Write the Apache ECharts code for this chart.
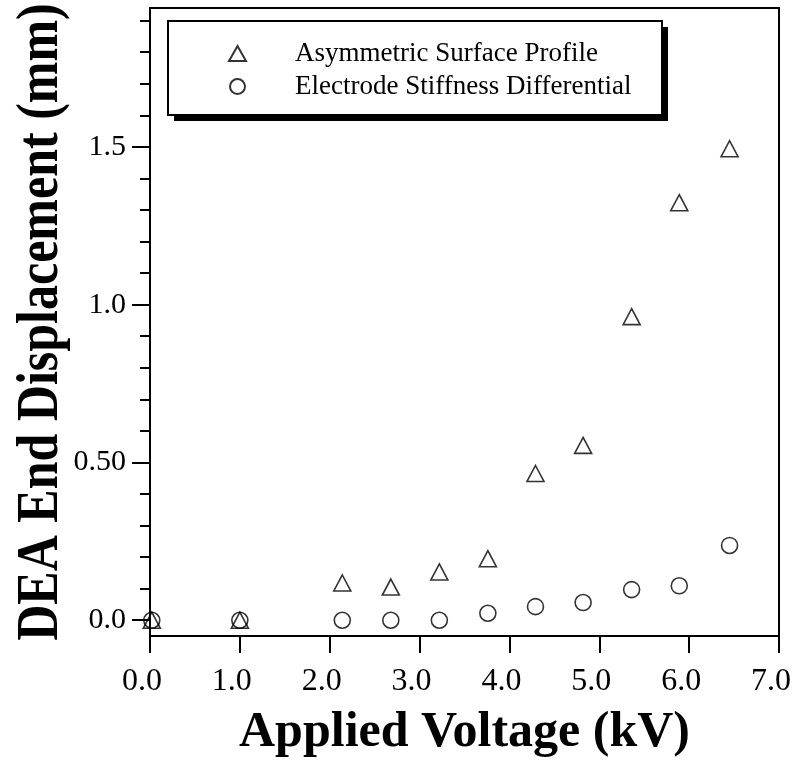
<!DOCTYPE html>
<html>
<head>
<meta charset="utf-8">
<script src="https://cdn.jsdelivr.net/npm/echarts@6/dist/echarts.min.js"></script>
<style>
html,body{margin:0;padding:0;background:#fff;}
#chart{width:796px;height:763px;}
</style>
</head>
<body>
<div id="chart"></div>
<script>
// ---- data ----
var voltage = [0.02, 1.0, 2.14, 2.68, 3.22, 3.76, 4.29, 4.82, 5.36, 5.89, 6.45];
var asymmetricSurface = [0.0, 0.0, 0.118, 0.105, 0.153, 0.195, 0.465, 0.554, 0.962, 1.323, 1.494];
var electrodeStiffness = [0.0, 0.0, 0.0, 0.0, 0.0, 0.022, 0.043, 0.056, 0.097, 0.109, 0.237];
var seriesNames = ['Asymmetric Surface Profile', 'Electrode Stiffness Differential'];
var xTickValues = [0, 1, 2, 3, 4, 5, 6, 7];
var xTickLabels = ['0.0', '1.0', '2.0', '3.0', '4.0', '5.0', '6.0', '7.0'];
var yMajorValues = [0, 0.5, 1.0, 1.5];
var yTickLabels = ['0.0', '0.50', '1.0', '1.5'];
var yMinorValues = [0, 0.1, 0.2, 0.3, 0.4, 0.5, 0.6, 0.7, 0.8, 0.9, 1.0, 1.1, 1.2, 1.3, 1.4, 1.5, 1.6, 1.7, 1.8, 1.9];
var xTitle = 'Applied Voltage (kV)';
var yTitle = 'DEA End Displacement (mm)';

var FONT = "'Liberation Serif', 'Times New Roman', serif";

function pairs(xs, ys) {
  return xs.map(function (x, i) { return [x, ys[i]]; });
}
function lookup(values, labels, v) {
  for (var i = 0; i < values.length; i++) {
    if (Math.abs(values[i] - v) < 1e-6) return labels[i];
  }
  return '';
}

var chart = echarts.init(document.getElementById('chart'), null, {renderer: 'canvas'});
var yMin = -0.05, yMax = 1.94;

chart.setOption({
  animation: false,
  backgroundColor: '#fff',
  grid: {
    left: 150, right: 17, top: 8, bottom: 127,
    show: true, borderColor: '#000', borderWidth: 2, backgroundColor: 'transparent'
  },
  legend: {
    orient: 'vertical',
    left: 168, top: 21,
    padding: [16, 20, 13, 60],
    itemGap: 0,
    itemWidth: 17, itemHeight: 15,
    backgroundColor: 'transparent',
    borderWidth: 0,
    textStyle: {
      fontFamily: FONT, fontSize: 27, color: '#000',
      lineHeight: 33, padding: [0, 0, 0, 44]
    },
    data: seriesNames
  },
  xAxis: {
    type: 'value', min: 0, max: 7, interval: 1,
    axisLine: {show: true, onZero: false, lineStyle: {color: '#000', width: 2}},
    axisTick: {show: true, length: 17, lineStyle: {color: '#000', width: 2}},
    axisLabel: {
      fontFamily: FONT, fontSize: 32, color: '#000', margin: 30,
      padding: [0, 16, 0, 0],
      formatter: function (v) { return lookup(xTickValues, xTickLabels, v); }
    },
    splitLine: {show: false},
    name: xTitle,
    nameLocation: 'middle',
    nameGap: 72,
    nameTextStyle: {fontFamily: FONT, fontSize: 50, fontWeight: 'bold', color: '#000'}
  },
  yAxis: [{
    type: 'value', min: yMin, max: yMax, position: 'left',
    axisLine: {show: true, onZero: false, lineStyle: {color: '#000', width: 2}},
    axisTick: {show: true, length: 18, customValues: yMajorValues, lineStyle: {color: '#000', width: 2}},
    axisLabel: {
      fontFamily: FONT, fontSize: 30, color: '#000', margin: 24,
      customValues: yMajorValues,
      formatter: function (v) { return lookup(yMajorValues, yTickLabels, v); }
    },
    splitLine: {show: false}
  }, {
    type: 'value', min: yMin, max: yMax, position: 'left', offset: 0,
    axisLine: {show: false},
    axisTick: {show: true, length: 10, customValues: yMinorValues, lineStyle: {color: '#000', width: 2}},
    axisLabel: {show: false},
    splitLine: {show: false}
  }],
  graphic: [{
    type: 'rect', z: 0,
    shape: {x: 174, y: 27, width: 494, height: 94},
    style: {fill: '#000'}
  }, {
    type: 'rect', z: 1,
    shape: {x: 168, y: 21, width: 494, height: 94},
    style: {fill: '#fff', stroke: '#000', lineWidth: 2}
  }, {
    type: 'text', z: 1,
    x: 41, y: 322,
    rotation: Math.PI / 2,
    scaleX: 1, scaleY: 1.2,
    style: {
      text: yTitle,
      font: "bold 50px 'Liberation Serif', 'Times New Roman', serif",
      fill: '#000',
      align: 'center',
      verticalAlign: 'middle'
    }
  }],
  series: [{
    name: seriesNames[0],
    type: 'scatter',
    yAxisIndex: 0,
    symbol: 'triangle',
    symbolSize: [17, 16],
    itemStyle: {color: 'transparent', borderColor: '#000', borderWidth: 1.6},
    data: pairs(voltage, asymmetricSurface)
  }, {
    name: seriesNames[1],
    type: 'scatter',
    yAxisIndex: 0,
    symbol: 'circle',
    symbolSize: 16,
    itemStyle: {color: 'transparent', borderColor: '#000', borderWidth: 1.6},
    data: pairs(voltage, electrodeStiffness)
  }]
});
</script>
</body>
</html>
